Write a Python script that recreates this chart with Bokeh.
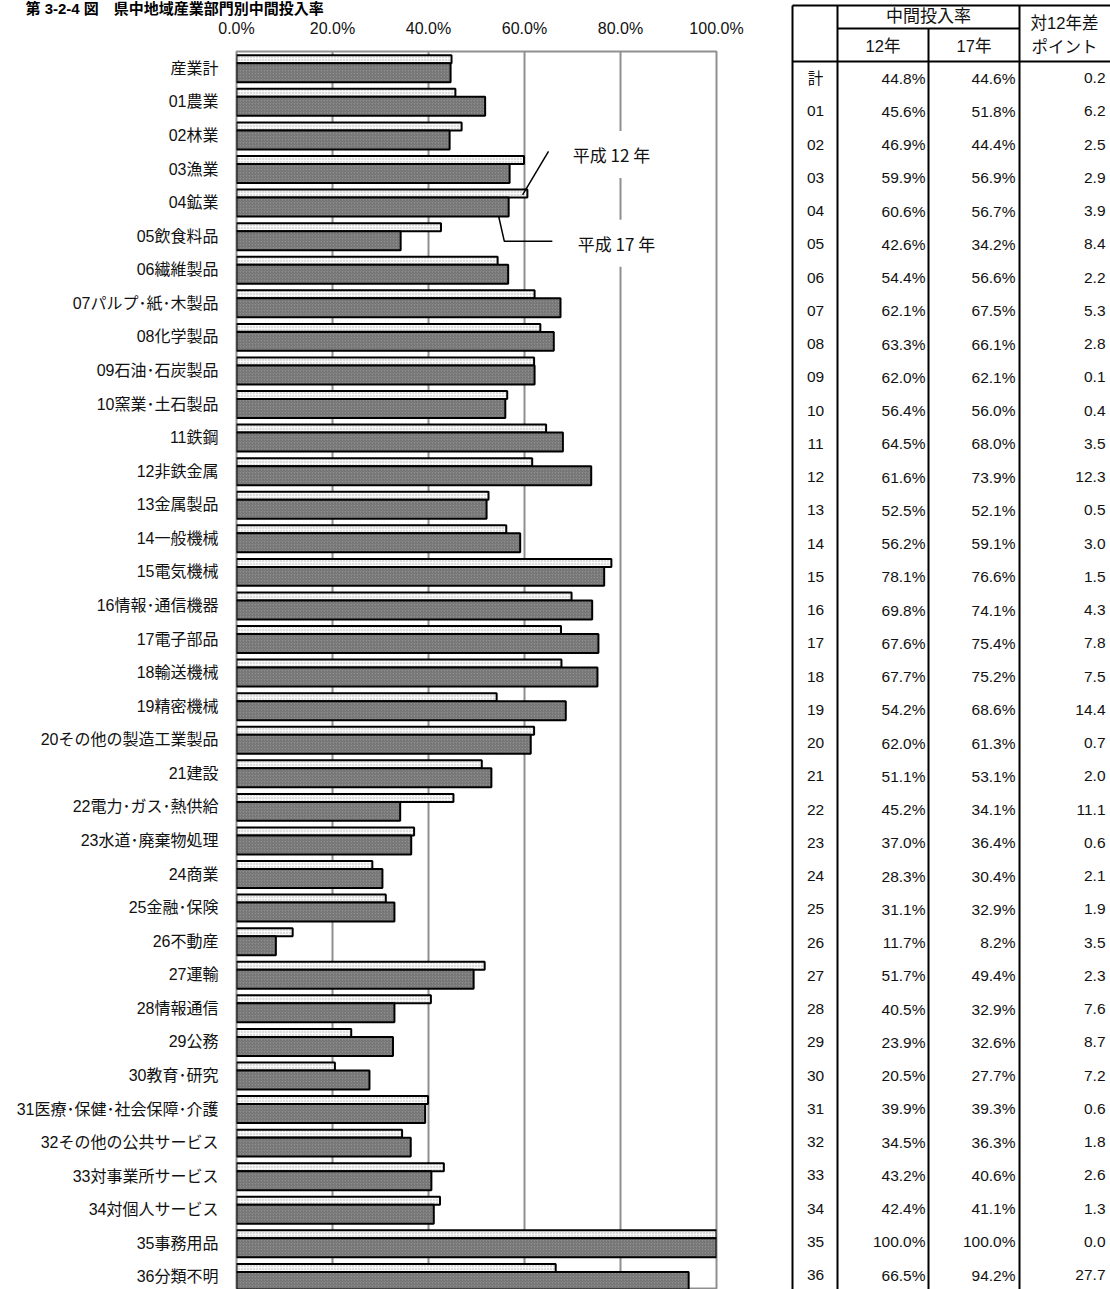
from bokeh.plotting import figure
from bokeh.layouts import row, column
from bokeh.models import Range1d, FixedTicker, Label, ColumnDataSource
from bokeh.embed import file_html
from bokeh.resources import INLINE
from bokeh.core.properties import value

# ---------------- data ----------------
title_text = "第 3-2-4 図　県中地域産業部門別中間投入率"

categories = [
    "産業計", "01農業", "02林業", "03漁業", "04鉱業", "05飲食料品", "06繊維製品",
    "07パルプ･紙･木製品", "08化学製品", "09石油･石炭製品", "10窯業･土石製品", "11鉄鋼",
    "12非鉄金属", "13金属製品", "14一般機械", "15電気機械", "16情報･通信機器", "17電子部品",
    "18輸送機械", "19精密機械", "20その他の製造工業製品", "21建設", "22電力･ガス･熱供給",
    "23水道･廃棄物処理", "24商業", "25金融･保険", "26不動産", "27運輸", "28情報通信",
    "29公務", "30教育･研究", "31医療･保健･社会保障･介護", "32その他の公共サービス",
    "33対事業所サービス", "34対個人サービス", "35事務用品", "36分類不明",
]

codes = ["計"] + [f"{i:02d}" for i in range(1, 37)]

rate_h12 = [44.8, 45.6, 46.9, 59.9, 60.6, 42.6, 54.4, 62.1, 63.3, 62.0, 56.4, 64.5,
            61.6, 52.5, 56.2, 78.1, 69.8, 67.6, 67.7, 54.2, 62.0, 51.1, 45.2, 37.0,
            28.3, 31.1, 11.7, 51.7, 40.5, 23.9, 20.5, 39.9, 34.5, 43.2, 42.4, 100.0, 66.5]

rate_h17 = [44.6, 51.8, 44.4, 56.9, 56.7, 34.2, 56.6, 67.5, 66.1, 62.1, 56.0, 68.0,
            73.9, 52.1, 59.1, 76.6, 74.1, 75.4, 75.2, 68.6, 61.3, 53.1, 34.1, 36.4,
            30.4, 32.9, 8.2, 49.4, 32.9, 32.6, 27.7, 39.3, 36.3, 40.6, 41.1, 100.0, 94.2]

diff_pt = [0.2, 6.2, 2.5, 2.9, 3.9, 8.4, 2.2, 5.3, 2.8, 0.1, 0.4, 3.5, 12.3, 0.5, 3.0,
           1.5, 4.3, 7.8, 7.5, 14.4, 0.7, 2.0, 11.1, 0.6, 2.1, 1.9, 3.5, 2.3, 7.6, 8.7,
           7.2, 0.6, 1.8, 2.6, 1.3, 0.0, 27.7]

x_ticks = [0, 20, 40, 60, 80, 100]
x_tick_labels = ["0.0%", "20.0%", "40.0%", "60.0%", "80.0%", "100.0%"]

series_names = ["平成 12 年", "平成 17 年"]
table_group_header = "中間投入率"
table_col_headers = ["12年", "17年"]
table_diff_header = ["対12年差", "ポイント"]

# ---------------- layout helpers ----------------
N = len(categories)
idx = list(range(N))
FIG_H = 1289
CHART_W = 778
TABLE_W = 1110 - CHART_W
TITLE_H = 16
CHART_H = FIG_H - TITLE_H
PITCH = 33.6          # px per category
TOP = 50              # frame top on the page
FRAME_H = FIG_H - TOP
Y_TOP = -0.5
Y_BOTTOM = Y_TOP + FRAME_H / PITCH


def px(page_x):
    return (page_x - 236) / 4.8


def py(page_y):
    return (page_y - TOP) / PITCH - 0.5


JP = value("Liberation Sans, Noto Sans CJK JP")
TXT = "#111111"

# ---------------- title strip ----------------
tf = figure(width=CHART_W, height=TITLE_H, x_range=Range1d(0, CHART_W),
            y_range=Range1d(TITLE_H, 0), x_axis_location=None, y_axis_location=None,
            output_backend="svg", toolbar_location=None, min_border=0)
tf.min_border_left = tf.min_border_right = tf.min_border_top = tf.min_border_bottom = 0
tf.outline_line_color = None
tf.grid.visible = False
tf.frame_align = False
tf.text(x=[25], y=[TITLE_H / 2], text=[title_text], text_align="left",
        text_baseline="middle", text_font=JP, text_font_size="15px",
        text_font_style="bold", text_color="black")

# ---------------- chart ----------------
p = figure(width=CHART_W, height=CHART_H,
           x_range=Range1d(0, 100), y_range=Range1d(start=Y_BOTTOM, end=Y_TOP),
           x_axis_location="above", output_backend="svg", toolbar_location=None,
           min_border_left=236, min_border_right=CHART_W - 716,
           min_border_top=TOP - TITLE_H, min_border_bottom=0)
p.frame_align = False
p.background_fill_color = "white"
p.border_fill_color = "white"
p.outline_line_color = "#8f8f8f"
p.outline_line_width = 2

xa = p.xaxis[0]
xa.ticker = FixedTicker(ticks=x_ticks)
xa.major_label_overrides = dict(zip(x_ticks, x_tick_labels))
xa.major_tick_line_color = None
xa.minor_tick_line_color = None
xa.major_tick_out = 0
xa.major_tick_in = 0
xa.axis_line_color = None
xa.major_label_standoff = 15
xa.major_label_text_font = "Liberation Sans"
xa.major_label_text_font_size = "16px"
xa.major_label_text_color = TXT

ya = p.yaxis[0]
ya.ticker = FixedTicker(ticks=idx)
ya.major_label_overrides = dict(zip(idx, categories))
ya.major_tick_line_color = None
ya.minor_tick_line_color = None
ya.major_tick_out = 0
ya.major_tick_in = 0
ya.axis_line_color = None
ya.major_label_standoff = 18
ya.major_label_text_font = "Liberation Sans, Noto Sans CJK JP"
ya.major_label_text_font_size = "16px"
ya.major_label_text_color = TXT

p.xgrid.ticker = FixedTicker(ticks=x_ticks)
p.xgrid.grid_line_color = "#8f8f8f"
p.xgrid.grid_line_width = 2
p.ygrid.grid_line_color = None

src = ColumnDataSource(dict(
    y12=[i - 0.268 for i in idx],
    y17=[i + 0.134 for i in idx],
    v12=rate_h12,
    v17=rate_h17,
))

p.hbar(y="y12", left=0, right="v12", height=0.238, source=src,
       fill_color="#f8f8f8", hatch_pattern="dot", hatch_color="#b4b4b4",
       hatch_scale=3, hatch_weight=1,
       line_color="black", line_width=2)
p.hbar(y="y17", left=0, right="v17", height=0.565, source=src,
       fill_color="#8e8e8e", hatch_pattern="right_diagonal_line", hatch_color="#6c6c6c",
       hatch_scale=3, hatch_weight=1,
       line_color="black", line_width=2)

# leader lines for the series labels (anchored on 04鉱業 bars)
k = 4
p.line(x=[rate_h12[k] + 4.4, rate_h12[k] - 1.0], y=[py(150), k - 0.23],
       line_color="black", line_width=1.5)
p.line(x=[rate_h17[k] - 2.1, rate_h17[k] - 0.9, rate_h17[k] + 9.1],
       y=[k + 0.40, py(240), py(240)],
       line_color="black", line_width=1.5)

for name, lx, ly in [(series_names[0], px(611), py(153)), (series_names[1], px(616), py(242))]:
    p.add_layout(Label(x=lx, y=ly, text=name, text_align="center", text_baseline="middle",
                       text_font="Noto Sans CJK JP", text_font_size="17px",
                       text_color=TXT, background_fill_color="white",
                       padding=11))

# ---------------- table ----------------
T_PITCH = 33.25
T_TOP = 61


def ty(page_y):
    return (page_y - T_TOP) / T_PITCH - 0.5


t = figure(width=TABLE_W, height=FIG_H, x_range=Range1d(CHART_W, 1110),
           y_range=Range1d(start=ty(FIG_H), end=ty(0)),
           x_axis_location=None, y_axis_location=None,
           output_backend="svg", toolbar_location=None, min_border=0)
t.min_border_left = 0
t.min_border_right = 0
t.min_border_top = 0
t.min_border_bottom = 0
t.frame_align = False
t.outline_line_color = None
t.grid.visible = False
t.background_fill_color = "white"
t.border_fill_color = "white"

y_end = ty(FIG_H) + 1
t.segment(x0=[792, 837, 928, 1019, 792, 837, 792],
          y0=[ty(5), ty(5), ty(28), ty(5), ty(5), ty(28), ty(61)],
          x1=[792, 837, 928, 1019, 1112, 1019, 1112],
          y1=[y_end, y_end, y_end, y_end, ty(5), ty(28), ty(61)],
          line_color="black", line_width=2)

tsrc = ColumnDataSource(dict(
    r=idx, code=codes,
    a=[f"{v:.1f}%" for v in rate_h12],
    b=[f"{v:.1f}%" for v in rate_h17],
    d=[f"{v:.1f}" for v in diff_pt],
))
t.text(x=815, y="r", text="code", source=tsrc, text_align="center", text_baseline="middle",
       text_font=JP, text_font_size="15.5px", text_color=TXT)
t.text(x=925, y="r", text="a", source=tsrc, text_align="right", text_baseline="middle",
       text_font=value("Liberation Sans"), text_font_size="15.5px", text_color=TXT)
t.text(x=1015, y="r", text="b", source=tsrc, text_align="right", text_baseline="middle",
       text_font=value("Liberation Sans"), text_font_size="15.5px", text_color=TXT)
t.text(x=1105, y="r", text="d", source=tsrc, text_align="right", text_baseline="middle",
       text_font=value("Liberation Sans"), text_font_size="15.5px", text_color=TXT)

t.text(x=[928], y=[ty(16)], text=[table_group_header], text_align="center",
       text_baseline="middle", text_font=JP, text_font_size="17px", text_color=TXT)
t.text(x=[882.5, 973.5], y=[ty(45)] * 2, text=table_col_headers, text_align="center",
       text_baseline="middle", text_font=JP, text_font_size="16.5px", text_color=TXT)
t.text(x=[1064, 1064], y=[ty(22), ty(46)], text=table_diff_header, text_align="center",
       text_baseline="middle", text_font=JP, text_font_size="16.5px", text_color=TXT)

layout = row(column(tf, p), t)
open("out.html", "w").write(file_html(layout, INLINE))
